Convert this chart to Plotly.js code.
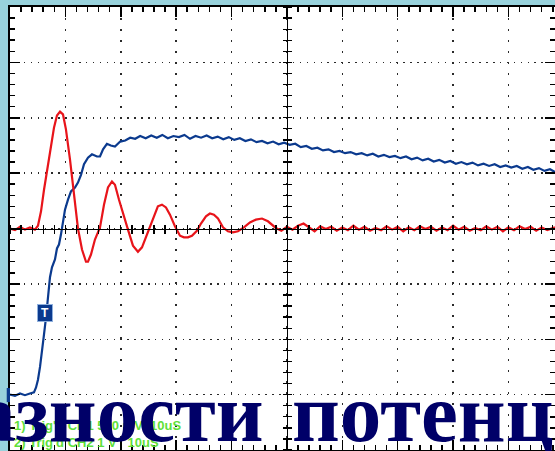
<!DOCTYPE html>
<html>
<head>
<meta charset="utf-8">
<script src="https://cdn.plot.ly/plotly-3.0.1.min.js"></script>
<style>html,body{margin:0;padding:0;background:#98d2dc;}#chart{width:555px;height:451px;}</style>
</head>
<body>
<div id="chart"></div>
<script>
// Time axis in microseconds (10 uS / division), vertical values in screen divisions
const redTime = [0,0.9,1.8,2.7,3.6,4.5,5.05,5.6,6.14,6.5,7.22,7.94,8.48,9.03,9.57,10.1,10.83,11.55,12.27,13.0,13.72,14.08,14.62,15.34,16.25,16.97,17.69,18.41,18.95,19.68,20.58,21.3,22.2,23.1,23.83,24.55,25.27,26.0,26.7,27.44,28.16,28.88,29.78,30.69,31.4,32.13,32.85,33.75,34.48,35.38,36.1,36.82,37.55,38.45,39.35,40.25,41.16,42.24,43.32,44.4,45.5,46.57,47.65,
  48,49,50,51,52,53,54,55,56,57,58,59,60,61,62,63,64,65,66,67,68,69,70,71,72,73,74,75,76,77,78,79,80,81,82,83,84,85,86,87,88,89,90,91,92,93,94,95,96,97,98.4];
const redValue = [0.0,-0.03,0.03,-0.02,0.02,-0.02,0.05,0.31,0.70,0.92,1.43,1.82,2.04,2.11,2.06,1.79,1.25,0.56,0.0,-0.38,-0.60,-0.60,-0.47,-0.20,0.02,0.43,0.74,0.85,0.79,0.52,0.20,-0.02,-0.31,-0.42,-0.34,-0.16,0.02,0.23,0.40,0.43,0.38,0.25,0.04,-0.13,-0.16,-0.16,-0.13,-0.04,0.09,0.22,0.27,0.25,0.18,0.02,-0.05,-0.07,-0.05,0.02,0.11,0.16,0.18,0.13,0.03,
  0.01,-0.04,0.03,-0.02,0.05,0.09,0.02,-0.05,0.04,-0.01,0.03,-0.04,0.02,-0.03,0.05,-0.02,0.03,-0.04,0.01,-0.03,0.04,-0.02,0.03,-0.05,0.02,-0.03,0.04,-0.01,0.03,-0.04,0.02,-0.03,0.05,-0.02,0.03,-0.04,0.01,-0.03,0.04,-0.02,0.03,-0.05,0.02,-0.03,0.04,-0.01,0.03,-0.04,0.02,-0.03,0.02];

const blueTime = [0,0.9,1.8,2.7,3.6,4.33,4.7,5.05,5.42,5.78,6.14,6.5,6.68,6.86,7.22,7.58,8.12,8.48,8.84,9.2,9.39,9.57,9.93,10.47,11.01,11.73,12.27,12.82,13.36,14.08,14.8,15.7,16.25,16.8,17.5,18.2,18.95,19.9,20.8,21.7,22.6,23.5,24.5,25.5,26.5,27.5,28.5,29.5,30.5,31.5,32.5,33.5,34.5,35.5,36.5,37.5,38.5,39.5,40.5,41.5,42.5,43.5,44.5,45.5,46.5,47.5,48.5,49.5,50.5,51.5,52.5,53.5,54.5,55.5,56.5,57.5,58.5,59.5,60.5,61.5,62.5,63.5,64.5,65.5,66.5,67.5,68.5,69.5,70.5,71.5,72.5,73.5,74.5,75.5,76.5,77.5,78.5,79.5,80.5,81.5,82.5,83.5,84.5,85.5,86.5,87.5,88.5,89.5,90.5,91.5,92.5,93.5,94.5,95.5,96.5,97.5,98.4];
const blueValue = [-3.0,-3.02,-2.98,-3.01,-2.98,-2.96,-2.87,-2.73,-2.50,-2.24,-1.91,-1.61,-1.41,-1.19,-0.88,-0.70,-0.56,-0.36,-0.29,-0.11,0.02,0.16,0.34,0.52,0.67,0.74,0.83,0.97,1.16,1.28,1.34,1.30,1.30,1.43,1.53,1.50,1.48,1.57,1.59,1.64,1.62,1.67,1.63,1.68,1.64,1.69,1.63,1.67,1.65,1.69,1.62,1.67,1.64,1.68,1.63,1.66,1.61,1.65,1.60,1.63,1.58,1.61,1.56,1.58,1.54,1.57,1.52,1.55,1.51,1.53,1.47,1.49,1.44,1.46,1.41,1.43,1.38,1.40,1.36,1.38,1.34,1.36,1.32,1.35,1.30,1.33,1.29,1.31,1.27,1.30,1.25,1.28,1.23,1.26,1.21,1.24,1.19,1.22,1.17,1.20,1.16,1.19,1.14,1.17,1.13,1.16,1.11,1.14,1.10,1.13,1.08,1.11,1.06,1.09,1.04,1.07,1.02,1.03];

const readoutLines = ["1) Trig'd CH1 500 mV\u00a0\u00a010uS", "2) Trig'd CH2 1 V\u00a0\u00a0\u00a010uS"];
const captionLeft = "азности";
const captionRight = "потенц";
const triggerLabel = "T";
const triggerPoint = {t: 6.3, v: -1.53};

const xRange = [0, 98.4];
const yRange = [-4, 4];
const centerFrac = 50 / 98.4;

const traces = [
  {x: blueTime, y: blueValue, type: 'scatter', mode: 'lines', line: {color: '#0b3a8e', width: 2.2}, xaxis: 'x', yaxis: 'y'},
  {x: redTime, y: redValue, type: 'scatter', mode: 'lines', line: {color: '#e8141a', width: 2.2}, xaxis: 'x', yaxis: 'y'},
  {x: [50], y: [0], mode: 'markers', marker: {opacity: 0}, xaxis: 'x2', yaxis: 'y'},
  {x: [50], y: [0], mode: 'markers', marker: {opacity: 0}, xaxis: 'x3', yaxis: 'y'},
  {x: [50], y: [0], mode: 'markers', marker: {opacity: 0}, xaxis: 'x', yaxis: 'y2'},
  {x: [50], y: [0], mode: 'markers', marker: {opacity: 0}, xaxis: 'x', yaxis: 'y3'}
];

const edgeCommon = {
  ticks: 'inside', ticklen: 10, tickwidth: 1.5, tickcolor: '#000',
  showline: true, linecolor: '#000', linewidth: 2, mirror: 'ticks',
  showgrid: true, gridcolor: '#2a2a2a', gridwidth: 1.5,
  zeroline: false, showticklabels: false, fixedrange: true
};
const centerCommon = {
  anchor: 'free', ticks: 'outside', ticklen: 4, tickwidth: 1.3, tickcolor: '#000',
  showline: true, linecolor: '#000', linewidth: 1.5,
  showgrid: false, zeroline: false, showticklabels: false, fixedrange: true
};

const layout = {
  width: 555, height: 451,
  margin: {l: 10, r: 0, t: 7, b: 1, pad: 0},
  paper_bgcolor: '#98d2dc', plot_bgcolor: '#ffffff',
  showlegend: false, hovermode: false,
  xaxis: Object.assign({}, edgeCommon, {range: xRange, dtick: 10, tick0: 0, griddash: '1.5px,9.5px',
    minor: {dtick: 2, tick0: 0, ticks: 'inside', ticklen: 5, tickwidth: 1.5, tickcolor: '#000', showgrid: false}}),
  yaxis: Object.assign({}, edgeCommon, {range: yRange, dtick: 1, tick0: 0, griddash: '1.5px,5.4px',
    minor: {dtick: 0.2, tick0: 0, ticks: 'inside', ticklen: 5, tickwidth: 1.5, tickcolor: '#000', showgrid: false}}),
  xaxis2: Object.assign({}, centerCommon, {overlaying: 'x', position: 0.5, side: 'bottom', range: xRange, dtick: 2, tick0: 0}),
  xaxis3: Object.assign({}, centerCommon, {overlaying: 'x', position: 0.5, side: 'top', range: xRange, dtick: 2, tick0: 0}),
  yaxis2: Object.assign({}, centerCommon, {overlaying: 'y', position: centerFrac, side: 'left', range: yRange, dtick: 0.2, tick0: 0}),
  yaxis3: Object.assign({}, centerCommon, {overlaying: 'y', position: centerFrac, side: 'right', range: yRange, dtick: 0.2, tick0: 0}),
  shapes: [
    {type: 'rect', xref: 'paper', yref: 'paper', x0: -0.006, x1: 0.0, y0: 0.108, y1: 0.14, fillcolor: '#0b3a8e', line: {width: 0}}
  ],
  annotations: [
    {xref: 'paper', yref: 'paper', x: 0.0037, y: 0.0564, xanchor: 'left', yanchor: 'middle', showarrow: false,
     text: readoutLines[0], font: {family: 'Liberation Sans, Arial, sans-serif', size: 13, color: '#5fe03a', weight: 'bold'}},
    {xref: 'paper', yref: 'paper', x: 0.0037, y: 0.018, xanchor: 'left', yanchor: 'middle', showarrow: false,
     text: readoutLines[1], font: {family: 'Liberation Sans, Arial, sans-serif', size: 13, color: '#5fe03a', weight: 'bold'}},
    {xref: 'paper', yref: 'paper', x: 0.4697, y: 0.0835, xanchor: 'right', yanchor: 'middle', showarrow: false,
     text: captionLeft, font: {family: 'Liberation Serif, Times New Roman, serif', size: 83, color: '#000068', weight: 'bold'}},
    {xref: 'paper', yref: 'paper', x: 0.5138, y: 0.0835, xanchor: 'left', yanchor: 'middle', showarrow: false,
     text: captionRight, font: {family: 'Liberation Serif, Times New Roman, serif', size: 83, color: '#000068', weight: 'bold'}},
    {xref: 'x', yref: 'y', x: triggerPoint.t, y: triggerPoint.v, showarrow: false, text: triggerLabel,
     bgcolor: '#0b3a8e', bordercolor: '#8fb0dd', borderwidth: 1, borderpad: 1, width: 12, height: 14,
     font: {family: 'Liberation Sans, Arial, sans-serif', size: 12, color: '#ffffff', weight: 'bold'}}
  ]
};

Plotly.newPlot('chart', traces, layout, {staticPlot: true, displayModeBar: false});
</script>
</body>
</html>
